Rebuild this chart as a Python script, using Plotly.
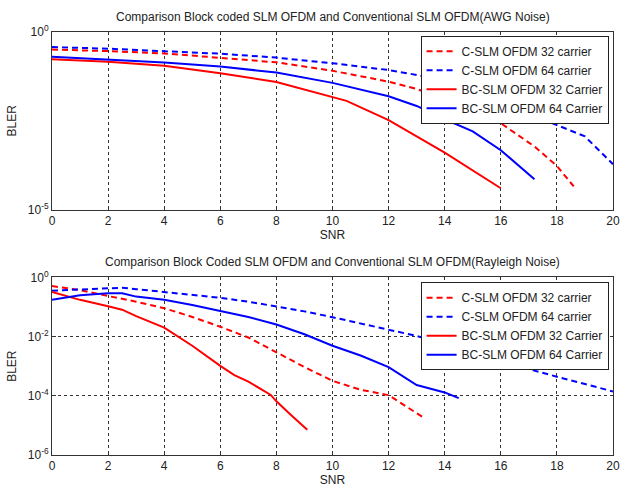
import plotly.graph_objects as go

# ---------------- data ----------------
series_names = ["C-SLM OFDM 32 carrier", "C-SLM OFDM 64 carrier",
                "BC-SLM OFDM 32 Carrier", "BC-SLM OFDM 64 Carrier"]
series_colors = ["#ff0000", "#0000ff", "#ff0000", "#0000ff"]
series_dash = ["6px,4px", "6px,4px", "solid", "solid"]

# Top: AWGN
awgn_c32_x = [0, 2, 4, 6, 8, 10, 12, 13, 14, 15, 16, 17.2, 18, 18.6]
awgn_c32_y = [0.32, 0.29, 0.25, 0.19, 0.14, 0.081, 0.040, 0.025, 0.013, 6.3e-3, 2.7e-3, 6.0e-4, 1.7e-4, 4.5e-5]
awgn_c64_x = [0, 2, 4, 6, 8, 10, 12, 13, 14, 15, 16, 16.5, 17, 18, 19, 20]
awgn_c64_y = [0.376, 0.339, 0.288, 0.245, 0.19, 0.132, 0.085, 0.062, 0.040, 0.024, 0.0126, 7.9e-3, 5.1e-3, 2.4e-3, 1.15e-3, 1.9e-4]
awgn_bc32_x = [0, 2, 4, 6, 8, 10, 10.5, 12, 14, 16]
awgn_bc32_y = [0.17, 0.145, 0.112, 0.069, 0.039, 0.0148, 0.0115, 3.3e-3, 4.0e-4, 4.0e-5]
awgn_bc64_x = [0, 2, 4, 6, 8, 10, 12, 13, 14, 15, 16, 17.2]
awgn_bc64_y = [0.2, 0.17, 0.138, 0.107, 0.072, 0.037, 0.0155, 8.3e-3, 3.5e-3, 1.6e-3, 4.7e-4, 7.2e-5]

# Bottom: Rayleigh
ray_c32_x = [0, 1, 2, 3, 4, 5, 6, 7, 8, 9, 10, 11, 12, 13.2]
ray_c32_y = [0.51, 0.37, 0.234, 0.151, 0.091, 0.046, 0.0214, 9.3e-3, 2.95e-3, 9.3e-4, 3.2e-4, 1.6e-4, 1.05e-4, 1.95e-5]
ray_c64_x = [0, 1, 2, 2.5, 3, 4, 5, 6, 7, 8, 9, 10, 11, 12, 13, 14, 15, 16, 17, 18, 19, 20]
ray_c64_y = [0.355, 0.39, 0.447, 0.447, 0.40, 0.324, 0.25, 0.204, 0.151, 0.105, 0.071, 0.045, 0.0275, 0.0174,
             0.0105, 5.6e-3, 2.6e-3, 1.45e-3, 7.9e-4, 4.4e-4, 2.5e-4, 1.4e-4]
ray_bc32_x = [0, 1, 2, 2.5, 3, 4, 5, 6, 6.5, 7, 7.8, 8, 8.5, 9.1]
ray_bc32_y = [0.324, 0.174, 0.105, 0.081, 0.049, 0.020, 4.9e-3, 1.02e-3, 5.0e-4, 3.0e-4, 1.07e-4, 6.5e-5, 2.35e-5, 7.1e-6]
ray_bc64_x = [0, 1, 2, 2.5, 3, 4, 5, 6, 7, 8, 9, 10, 11, 12, 13, 14, 14.5]
ray_bc64_y = [0.174, 0.25, 0.29, 0.29, 0.224, 0.174, 0.117, 0.074, 0.046, 0.0257, 0.012, 4.9e-3, 2.3e-3,
              9.3e-4, 2.3e-4, 1.3e-4, 8.3e-5]

x_ticks = [0, 2, 4, 6, 8, 10, 12, 14, 16, 18, 20]
top_yticks = [1e-5, 1]
top_ytext = ["10<sup>-5</sup>", "10<sup>0</sup>"]
bot_yticks = [1e-6, 1e-4, 1e-2, 1]
bot_ytext = ["10<sup>-6</sup>", "10<sup>-4</sup>", "10<sup>-2</sup>", "10<sup>0</sup>"]

title_top = "Comparison Block coded SLM OFDM and Conventional SLM OFDM(AWG Noise)"
title_bot = "Comparison Block Coded SLM OFDM and Conventional SLM OFDM(Rayleigh Noise)"

# ---------------- figure ----------------
FONT = "Liberation Sans, Arial, sans-serif"
fig = go.Figure()

top_sets = [(awgn_c32_x, awgn_c32_y), (awgn_c64_x, awgn_c64_y), (awgn_bc32_x, awgn_bc32_y), (awgn_bc64_x, awgn_bc64_y)]
bot_sets = [(ray_c32_x, ray_c32_y), (ray_c64_x, ray_c64_y), (ray_bc32_x, ray_bc32_y), (ray_bc64_x, ray_bc64_y)]

for i, (xs, ys) in enumerate(top_sets):
    fig.add_trace(go.Scatter(x=xs, y=ys, mode="lines", name=series_names[i],
                             line=dict(color=series_colors[i], dash=series_dash[i], width=2),
                             xaxis="x", yaxis="y", legend="legend"))
for i, (xs, ys) in enumerate(bot_sets):
    fig.add_trace(go.Scatter(x=xs, y=ys, mode="lines", name=series_names[i],
                             line=dict(color=series_colors[i], dash=series_dash[i], width=2),
                             xaxis="x2", yaxis="y2", legend="legend2"))

axis_common = dict(showline=True, linecolor="#333333", linewidth=1, mirror=True,
                   ticks="inside", ticklen=4, tickcolor="#333333",
                   tickfont=dict(family=FONT, size=12, color="#222222"),
                   zeroline=False)
grid_common = dict(showgrid=True, gridcolor="#333333", griddash="3px,3px", gridwidth=1)

top_dom = [(463 - 213) / 431, 1.0]
bot_dom = [0.0, (463 - 282) / 431]

fig.update_layout(
    width=629, height=493,
    margin=dict(l=52, r=9, t=32, b=30),
    paper_bgcolor="white", plot_bgcolor="white",
    font=dict(family=FONT, size=12, color="#222222"),
    xaxis=dict(domain=[0, 1], range=[0, 20], tickvals=x_ticks, anchor="y",
               title=dict(text="SNR", font=dict(family=FONT, size=12), standoff=2),
               **grid_common, **axis_common),
    yaxis=dict(domain=top_dom, type="log", range=[-5, 0], tickvals=top_yticks, ticktext=top_ytext,
               anchor="x", showgrid=False,
               title=dict(text="BLER", font=dict(family=FONT, size=12), standoff=8),
               **axis_common),
    xaxis2=dict(domain=[0, 1], range=[0, 20], tickvals=x_ticks, anchor="y2",
                title=dict(text="SNR", font=dict(family=FONT, size=12), standoff=2),
                **grid_common, **axis_common),
    yaxis2=dict(domain=bot_dom, type="log", range=[-6, 0], tickvals=bot_yticks, ticktext=bot_ytext,
                anchor="x2",
                title=dict(text="BLER", font=dict(family=FONT, size=12), standoff=8),
                **grid_common, **axis_common),
    legend=dict(x=0.657, y=0.991, xanchor="left", yanchor="top",
                bgcolor="white", bordercolor="#222222", borderwidth=1,
                font=dict(family=FONT, size=12, color="#222222"), tracegroupgap=0),
    legend2=dict(x=0.657, y=(463 - 287) / 431, xanchor="left", yanchor="top",
                 bgcolor="white", bordercolor="#222222", borderwidth=1,
                 font=dict(family=FONT, size=12, color="#222222"), tracegroupgap=0),
    annotations=[
        dict(text=title_top, x=0.5, y=1.0, xref="paper", yref="paper", yshift=15,
             showarrow=False, xanchor="center", yanchor="middle",
             font=dict(family=FONT, size=12, color="#222222")),
        dict(text=title_bot, x=0.5, y=bot_dom[1], xref="paper", yref="paper", yshift=15,
             showarrow=False, xanchor="center", yanchor="middle",
             font=dict(family=FONT, size=12, color="#222222")),
    ],
)

fig.write_html("out.html")
